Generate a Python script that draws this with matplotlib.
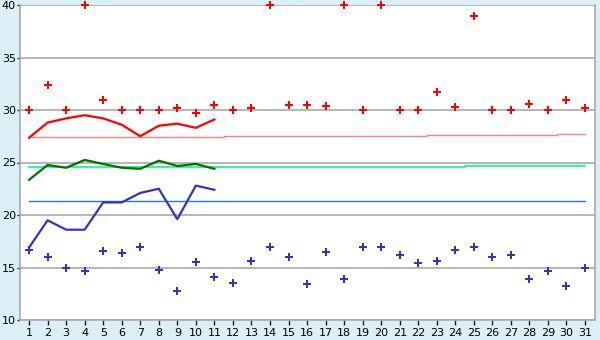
import matplotlib
matplotlib.use("Agg")
from matplotlib import pyplot as plt
import numpy as np

days = list(range(1, 32))

# daily maxima (red points) and minima (blue points)
max_points = [30.0, 32.4, 30.0, 40.0, 30.95, 30.0, 30.0, 30.0, 30.2, 29.7, 30.5,
              30.0, 30.2, 40.0, 30.5, 30.5, 30.35, 40.0, 30.0, 40.0, 30.0,
              30.0, 31.7, 30.25, 39.0, 30.0, 30.0, 30.55, 30.0, 31.0, 30.15]
min_points = [16.7, 16.0, 15.0, 14.7, 16.6, 16.4, 17.0, 14.8, 12.8, 15.5, 14.1,
              13.5, 15.6, 17.0, 16.0, 13.4, 16.5, 13.9, 17.0, 17.0, 16.2,
              15.4, 15.6, 16.7, 17.0, 16.0, 16.2, 13.9, 14.7, 13.2, 15.0]

# current month lines (days 1-11)
line_days = list(range(1, 12))
max_line = [27.36, 28.8, 29.2, 29.5, 29.2, 28.6, 27.5, 28.5, 28.7, 28.3, 29.1]
mean_line = [23.35, 24.76, 24.5, 25.24, 24.86, 24.5, 24.4, 25.17, 24.67, 24.86, 24.4]
min_line = [16.9, 19.5, 18.6, 18.6, 21.2, 21.2, 22.1, 22.5, 19.6, 22.8, 22.4]

# long-term averages per day
avg_max = [27.43] * 11 + [27.5] * 11 + [27.6] * 7 + [27.69] * 2
avg_mean = [24.6] * 24 + [24.7] * 7
avg_min = [21.3] * 31

bg = '#daeff6'
fig = plt.figure(figsize=(6, 3.4), dpi=100, facecolor=bg)
ax = fig.add_axes([20 / 600, 20 / 340, 575 / 600, 315 / 340])
ax.set_facecolor('white')

ax.set_xlim(0.51, 31.54)
ax.set_ylim(10, 40)
ax.set_yticks([10, 15, 20, 25, 30, 35, 40])
ax.set_xticks(days)
ax.yaxis.grid(True, color='#aaaaaa', linewidth=1.2)
ax.set_axisbelow(True)

for s in ['left', 'bottom', 'right']:
    ax.spines[s].set_color('#aaaaaa')
    ax.spines[s].set_linewidth(1.2)
ax.spines['top'].set_visible(False)
ax.tick_params(axis='both', colors='#222222', labelsize=8, length=3.5, width=1)
ax.tick_params(axis='x', pad=2)
ax.tick_params(axis='y', pad=0.5, length=2.5)
for lbl in ax.get_xticklabels() + ax.get_yticklabels():
    lbl.set_color('black')

ax.plot(days, avg_max, color='#ff8080', lw=1.0, drawstyle='steps-mid')
ax.plot(days, avg_mean, color='#00ff80', lw=1.2, drawstyle='steps-mid')
ax.plot(days, avg_min, color='#2277dd', lw=1.0, drawstyle='steps-mid')

ax.plot(line_days, max_line, color='#ff0000', lw=1.6)
ax.plot(line_days, mean_line, color='#007000', lw=1.6)
ax.plot(line_days, min_line, color='#3333cc', lw=1.6)

ax.plot(days, max_points, 'P', color='#ff0000', ms=5.2, mew=0, clip_on=False)
ax.plot(days, min_points, 'P', color='#3333cc', ms=5.2, mew=0, clip_on=False)

fig.savefig('out.png', dpi=100, facecolor=bg)
